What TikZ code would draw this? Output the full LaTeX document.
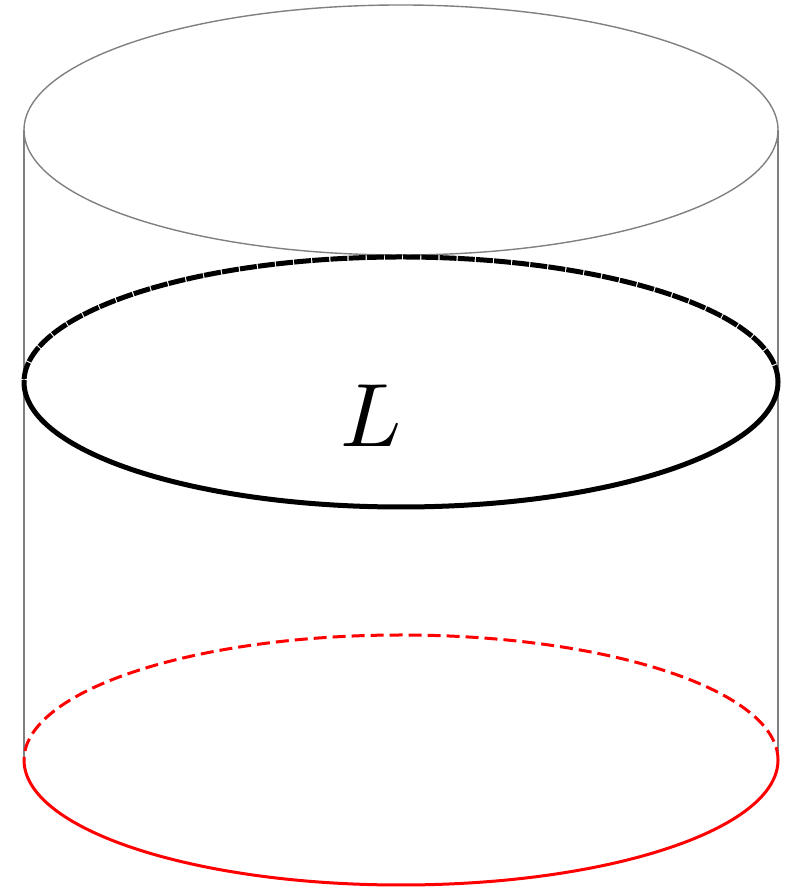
\documentclass[tikz,border=0pt]{standalone}
\usetikzlibrary{calc}
\begin{document}
\begin{tikzpicture}[x=1pt,y=1pt,
  rim/.style={draw=gray,line width=1.4pt},
  loopL/.style={draw=black,line width=5pt},
  base/.style={draw=red,line width=3pt}]
\useasboundingbox (0,0) rectangle (792,890);
\coordinate (c1) at (401,760);
\coordinate (c2) at (401,508);
\coordinate (c3) at (401,130);
% top ellipse
\draw[rim] (c1) ellipse[x radius=377,y radius=125];
% sides
\draw[rim] (24,760) -- (24,130);
\draw[rim] (778,760) -- (778,130);
% black loop L
\draw[loopL,dash pattern=on 17pt off 1.2pt] ($(c2)+(377,0)$) arc[start angle=0,end angle=180,x radius=377,y radius=125];
\draw[loopL] ($(c2)+(-377,0)$) arc[start angle=180,end angle=360,x radius=377,y radius=125];
% red bottom
\draw[base,dash pattern=on 13pt off 6pt] ($(c3)+(377,0)$) arc[start angle=0,end angle=180,x radius=377,y radius=125];
\draw[base] ($(c3)+(-377,0)$) arc[start angle=180,end angle=360,x radius=377,y radius=125];
\node[scale=9] (lab) at (371,474) {$L$};
\end{tikzpicture}
\end{document}
